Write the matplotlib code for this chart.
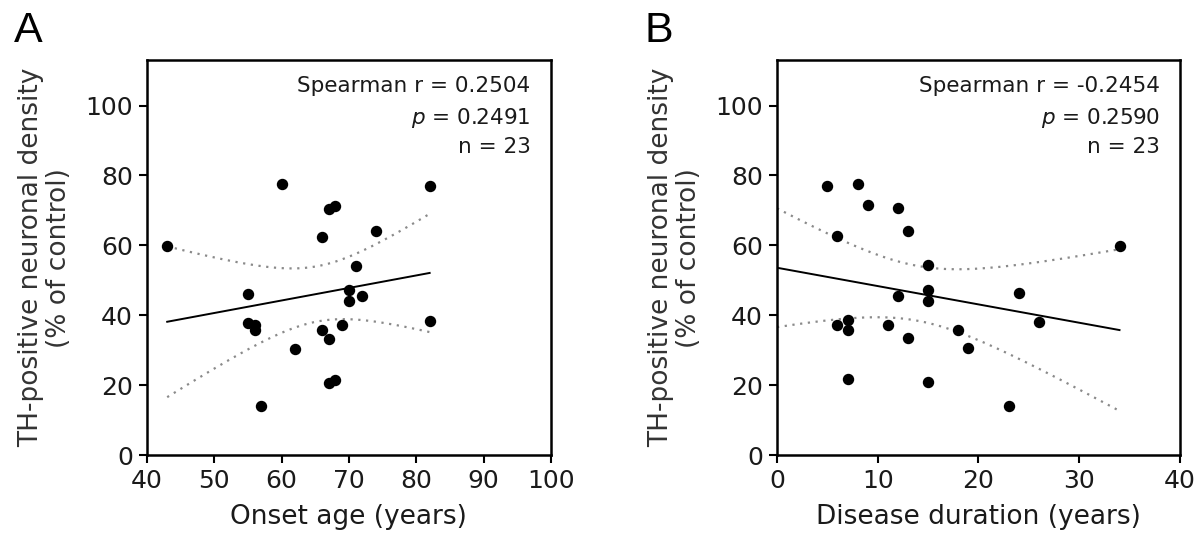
import numpy as np
import matplotlib
matplotlib.use("Agg")
import matplotlib.pyplot as plt

# --- DATA ---
onset_age = [43, 60, 82, 67, 68, 66, 74, 71, 55, 70, 70, 72,
             55, 56, 56, 66, 69, 82, 67, 62, 67, 68, 57]
density_a = [59.7, 77.6, 76.9, 70.5, 71.4, 62.4, 64.0, 54.2, 46.2, 47.1, 44.0, 45.4,
             37.9, 37.1, 35.7, 35.9, 37.1, 38.3, 33.3, 30.3, 20.7, 21.6, 13.9]

duration = [5, 8, 9, 12, 13, 6, 34, 15, 15, 12, 15, 24,
            6, 7, 7, 11, 18, 26, 13, 19, 7, 15, 23]
density_b = [77.0, 77.6, 71.6, 70.7, 64.1, 62.7, 59.8, 54.3, 47.3, 45.5, 44.1, 46.4,
             37.3, 38.6, 35.9, 37.3, 35.9, 38.1, 33.5, 30.5, 21.7, 20.8, 14.1]

stats_a = ["Spearman r = 0.2504", "p = 0.2491", "n = 23"]
stats_b = ["Spearman r = -0.2454", "p = 0.2590", "n = 23"]

T_CRIT = 2.0796  # t(0.975, df=21)

TXT = "#1a1a1a"


def fit_and_band(x, y, x0, x1):
    x = np.asarray(x, float)
    y = np.asarray(y, float)
    slope, icpt = np.polyfit(x, y, 1)
    resid = y - (slope * x + icpt)
    n = len(x)
    s = np.sqrt(np.sum(resid ** 2) / (n - 2))
    sxx = np.sum((x - x.mean()) ** 2)
    xs = np.linspace(x0, x1, 200)
    ys = slope * xs + icpt
    half = T_CRIT * s * np.sqrt(1.0 / n + (xs - x.mean()) ** 2 / sxx)
    return xs, ys, ys - half, ys + half


def draw_panel(ax, x, y, x0, x1, xlim, xticks, xlabel, stats, letter):
    xs, ys, lo, hi = fit_and_band(x, y, x0, x1)
    ax.plot(xs, ys, color="black", lw=1.4, zorder=2)
    ax.plot(xs, lo, color="#8a8a8a", lw=1.6, ls=(0, (1, 2.5)), zorder=2)
    ax.plot(xs, hi, color="#8a8a8a", lw=1.6, ls=(0, (1, 2.5)), zorder=2)
    ax.plot(x, y, "o", color="black", markersize=7.2, zorder=3)

    ax.set_xlim(*xlim)
    ax.set_ylim(0, 113)
    ax.set_xticks(xticks)
    ax.set_yticks([0, 20, 40, 60, 80, 100])
    ax.tick_params(direction="out", length=6, width=1.5, labelsize=18,
                   labelcolor=TXT, pad=4)
    for sp in ax.spines.values():
        sp.set_linewidth(1.8)
    ax.set_xlabel(xlabel, fontsize=19, color=TXT, labelpad=8)
    ax.set_ylabel("TH-positive neuronal density\n(% of control)",
                  fontsize=19, color="#333333", labelpad=10, linespacing=1.05)

    fs = 15.5
    ax.text(0.95, 0.96, stats[0], transform=ax.transAxes, ha="right",
            va="top", fontsize=fs, color=TXT)
    ax.text(0.95, 0.883, "$\\it{p}$" + stats[1][1:], transform=ax.transAxes,
            ha="right", va="top", fontsize=fs, color=TXT)
    ax.text(0.95, 0.806, stats[2], transform=ax.transAxes, ha="right",
            va="top", fontsize=fs, color=TXT)

    ax.text(-0.33, 1.075, letter, transform=ax.transAxes, fontsize=31,
            family="Liberation Sans", ha="left", va="center", color="black")


fig = plt.figure(figsize=(12, 5.42), dpi=100)
ax_a = fig.add_axes([0.1225, 0.1605, 0.3365, 0.7285])
ax_b = fig.add_axes([0.6475, 0.1605, 0.3358, 0.7285])

draw_panel(ax_a, onset_age, density_a, min(onset_age), max(onset_age),
           (40, 100), [40, 50, 60, 70, 80, 90, 100], "Onset age (years)",
           stats_a, "A")
draw_panel(ax_b, duration, density_b, 0, max(duration),
           (0, 40), [0, 10, 20, 30, 40], "Disease duration (years)",
           stats_b, "B")

fig.savefig("out.png", dpi=100)
